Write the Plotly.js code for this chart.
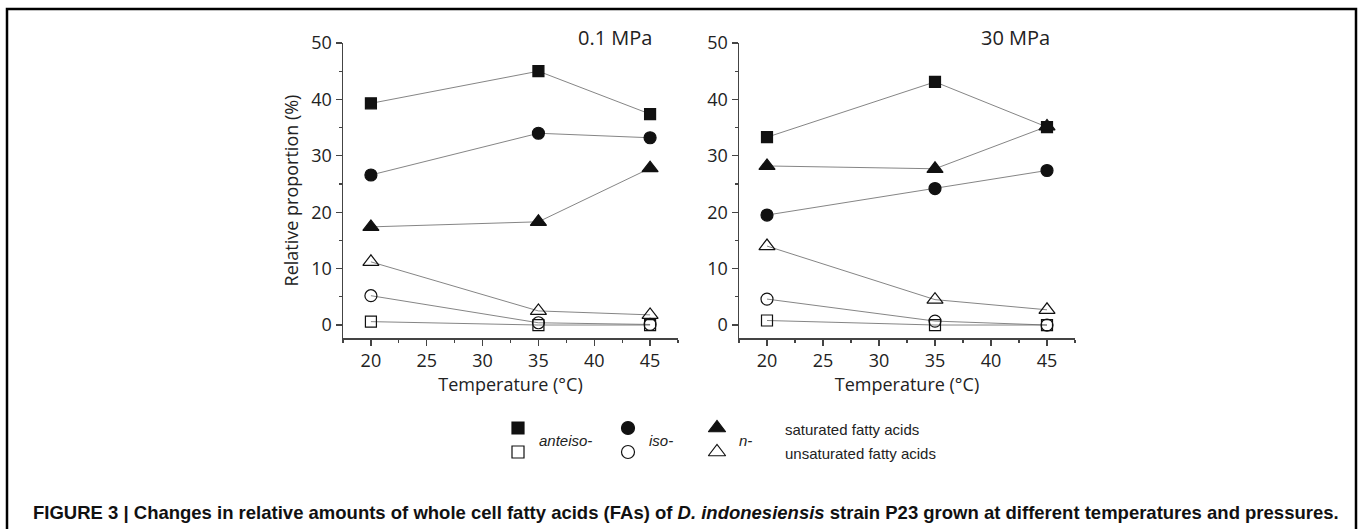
<!DOCTYPE html>
<html>
<head>
<meta charset="utf-8">
<script src="https://cdn.plot.ly/plotly-3.0.1.min.js"></script>
<style>html,body{margin:0;padding:0;background:#fff;}#chart{width:1358px;height:529px;}</style>
</head>
<body>
<div id="chart"></div>
<script>
// ---- data ----
const temperatures = [20, 35, 45];
const panelTitles = ["0.1 MPa", "30 MPa"];
// 0.1 MPa
const anteisoSat_01 = [39.3, 45.0, 37.4];
const isoSat_01     = [26.6, 34.0, 33.2];
const nSat_01       = [17.4, 18.3, 27.8];
const nUnsat_01     = [11.2, 2.5, 1.8];
const isoUnsat_01   = [5.2, 0.4, 0.1];
const anteisoUnsat_01 = [0.6, 0.0, 0.0];
// 30 MPa
const anteisoSat_30 = [33.3, 43.1, 35.1];
const isoSat_30     = [19.5, 24.2, 27.4];
const nSat_30       = [28.2, 27.7, 35.2];
const nUnsat_30     = [14.0, 4.5, 2.7];
const isoUnsat_30   = [4.6, 0.7, 0.0];
const anteisoUnsat_30 = [0.8, 0.0, 0.0];

const legendGroups = ["anteiso-", "iso-", "n-"];
const legendRows = ["saturated fatty acids", "unsaturated fatty acids"];
const caption = "<b>FIGURE 3 | Changes in relative amounts of whole cell fatty acids (FAs) of <i>D. indonesiensis</i> strain P23 grown at different temperatures and pressures.</b>";

// ---- helpers ----
const W = 1358, H = 529;
const px = x => x / W;
const py = y => 1 - y / H;

const styles = {
  anteisoSat:   {symbol: "square", size: 11},
  isoSat:       {symbol: "circle", size: 12},
  nSat:         {symbol: "triangle-up", size: 14},
  nUnsat:       {symbol: "triangle-up-open", size: 14},
  isoUnsat:     {symbol: "circle-open", size: 12},
  anteisoUnsat: {symbol: "square-open", size: 11}
};

function series(y, key, xa, ya) {
  const s = styles[key];
  return {
    x: temperatures, y: y, xaxis: xa, yaxis: ya, type: "scatter", mode: "lines+markers",
    line: {color: "#666", width: 0.8},
    marker: {symbol: s.symbol, size: s.size, color: "#111", line: {color: "#111", width: 1.2}},
    showlegend: false, hoverinfo: "x+y"
  };
}

const panels = [
  {xa: "x", ya: "y", d: {anteisoSat: anteisoSat_01, isoSat: isoSat_01, nSat: nSat_01, nUnsat: nUnsat_01, isoUnsat: isoUnsat_01, anteisoUnsat: anteisoUnsat_01}},
  {xa: "x2", ya: "y2", d: {anteisoSat: anteisoSat_30, isoSat: isoSat_30, nSat: nSat_30, nUnsat: nUnsat_30, isoUnsat: isoUnsat_30, anteisoUnsat: anteisoUnsat_30}}
];

const traces = [];
panels.forEach(p => {
  Object.keys(p.d).forEach(k => traces.push(series(p.d[k], k, p.xa, p.ya)));
});

// legend symbols on a hidden pixel-space axis
const legendSymbols = [
  ["square", "square-open", 518, 12],
  ["circle", "circle-open", 628, 13],
  ["triangle-up", "triangle-up-open", 717, 15]
];
legendSymbols.forEach(([f, o, xpos, sz]) => {
  traces.push({x: [xpos, xpos], y: [428, 452], xaxis: "x3", yaxis: "y3", type: "scatter", mode: "markers",
    marker: {symbol: [f, o], size: sz, color: "#111", line: {color: "#111", width: 1.2}},
    showlegend: false, hoverinfo: "skip"});
});

const tickFont = {family: "Open Sans, sans-serif", size: 18, color: "#222"};
function xAxis(domain) {
  return {domain: domain, range: [17.5, 47.5], tick0: 20, dtick: 5, ticks: "outside", ticklen: 6, tickwidth: 1.3,
    tickcolor: "#444", showline: true, linecolor: "#444", linewidth: 1.5, showgrid: false, zeroline: false,
    tickfont: tickFont, minor: {dtick: 2.5, ticks: "outside", ticklen: 3, tickcolor: "#444", showgrid: false},
    title: {text: "Temperature (°C)", font: tickFont, standoff: 6}, anchor: null};
}
function yAxis(domain, anchor, withTitle) {
  return {domain: domain, range: [-2.3, 50], tick0: 0, dtick: 10, ticks: "outside", ticklen: 6, tickwidth: 1.3,
    tickcolor: "#444", showline: true, linecolor: "#444", linewidth: 1.5, showgrid: false, zeroline: false,
    tickfont: tickFont, minor: {dtick: 5, ticks: "outside", ticklen: 3, tickcolor: "#444", showgrid: false},
    anchor: anchor, ticklabelstandoff: 0,
    title: withTitle ? {text: "Relative proportion (%)", font: tickFont, standoff: 8} : {text: ""}};
}

const yDom = [py(338), py(43)];
const xa1 = xAxis([px(343), px(678)]); xa1.anchor = "y";
const xa2 = xAxis([px(739), px(1075)]); xa2.anchor = "y2";

function ann(text, x, y, xanchor, font) {
  return {text: text, x: px(x), y: py(y), xref: "paper", yref: "paper", xanchor: xanchor, yanchor: "middle",
    showarrow: false, font: font};
}
const titleFont = {family: "Open Sans, sans-serif", size: 20, color: "#222"};
const legFont = {family: "Liberation Sans, Arial, sans-serif", size: 15, color: "#222"};
const annotations = [
  ann(panelTitles[0], 615, 37, "center", titleFont),
  ann(panelTitles[1], 1015, 37, "center", titleFont),
  ann("<i>" + legendGroups[0] + "</i>", 537, 440, "left", legFont),
  ann("<i>" + legendGroups[1] + "</i>", 647, 440, "left", legFont),
  ann("<i>" + legendGroups[2] + "</i>", 737, 440, "left", legFont),
  ann(legendRows[0], 783, 429, "left", legFont),
  ann(legendRows[1], 783, 453, "left", legFont),
  ann(caption, 31, 512, "left", {family: "Liberation Sans, Arial, sans-serif", size: 18.5, color: "#111"})
];

const frame = {type: "path", xref: "paper", yref: "paper",
  path: `M ${px(7)} ${py(H)} L ${px(7)} ${py(9)} L ${px(1356)} ${py(9)} L ${px(1356)} ${py(H)}`,
  line: {color: "#000", width: 2.5}};

const layout = {
  width: W, height: H, margin: {l: 0, r: 0, t: 0, b: 0},
  paper_bgcolor: "#fff", plot_bgcolor: "rgba(0,0,0,0)", showlegend: false,
  xaxis: xa1, yaxis: yAxis(yDom, "x", true),
  xaxis2: xa2, yaxis2: yAxis(yDom, "x2", false),
  xaxis3: {domain: [0, 1], range: [0, W], visible: false, fixedrange: true, anchor: "y3"},
  yaxis3: {domain: [0, 1], range: [H, 0], visible: false, fixedrange: true, anchor: "x3"},
  annotations: annotations, shapes: [frame]
};

Plotly.newPlot("chart", traces, layout, {displayModeBar: false, staticPlot: true});
</script>
</body>
</html>
